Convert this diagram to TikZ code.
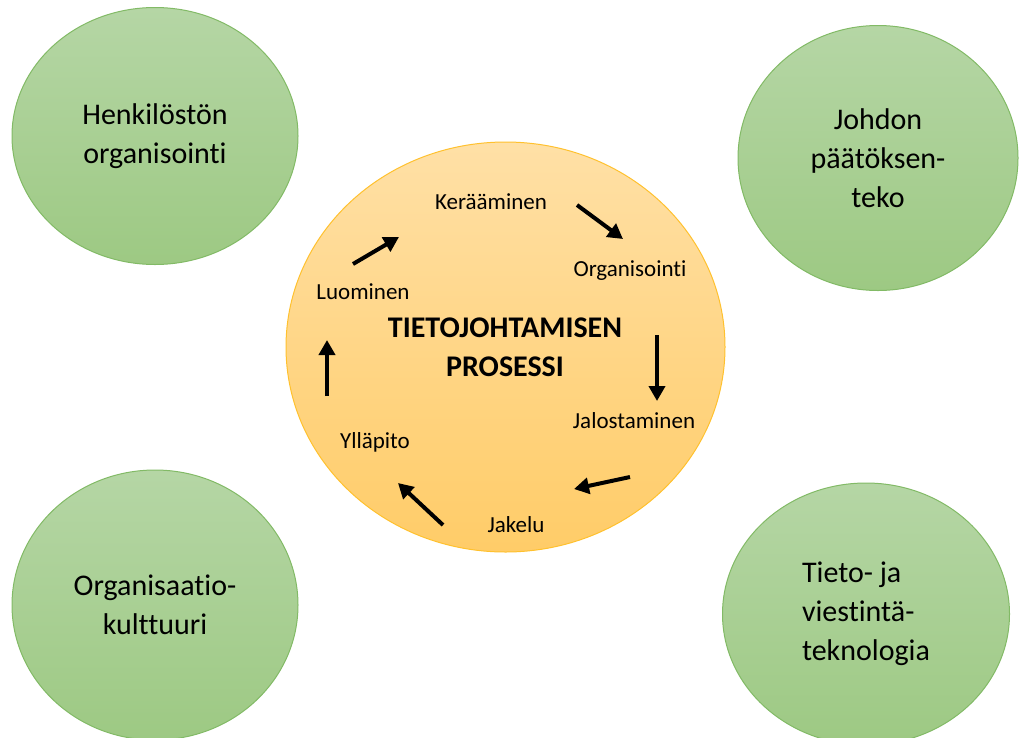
\documentclass[tikz,border=0pt]{standalone}
\usepackage{fontspec}
\setmainfont{Carlito}[Ligatures=NoCommon]
\usetikzlibrary{arrows.meta,shapes.geometric}
\definecolor{grtop}{HTML}{B5D6A5}
\definecolor{grbot}{HTML}{9DC983}
\definecolor{grline}{HTML}{82BA66}
\definecolor{ortop}{HTML}{FFE0A6}
\definecolor{orbot}{HTML}{FFCC68}
\definecolor{orline}{HTML}{FFC12E}

\begin{document}
\begin{tikzpicture}[x=1pt, y=-1pt,
  ring/.style = {ellipse, draw=grline, line width=1pt, top color=grtop, bottom color=grbot,
    inner sep=0pt, font=\fontsize{30}{39}\selectfont},
  phase/.style = {font=\fontsize{23}{26}\selectfont, inner sep=0pt},
  flow/.style = {line width=4pt, -{Triangle[length=15pt,width=16pt]}}]
  \useasboundingbox (0,0) rectangle (1019,737);
  % four fields around the process
  \node[ring, minimum width=286pt, minimum height=257pt, align=center] (hr) at (155,136) {Henkilöstön\\organisointi};
  \node[ring, minimum width=280pt, minimum height=265pt, align=center] (mgmt) at (878,158) {Johdon\\päätöksen-\\teko};
  \node[ring, minimum width=286pt, minimum height=270pt, align=center] (cult) at (155,605) {Organisaatio-\\kulttuuri};
  \node[ring, minimum width=287pt, minimum height=262pt, align=left] (ict) at (866,614) {Tieto- ja\\viestintä-\\teknologia};
  % the process itself
  \node[ellipse, draw=orline, line width=1pt, top color=ortop, bottom color=orbot,
    minimum width=439pt, minimum height=410pt] (proc) at (505.5,347) {};
  \node[font=\bfseries\fontsize{30}{39}\selectfont, align=center] (title) at (505,347) {TIETOJOHTAMISEN\\PROSESSI};
  \node[phase] (ker) at (491,202) {Kerääminen};
  \node[phase] (org) at (630,271) {Organisointi};
  \node[phase] (jal) at (634,421) {Jalostaminen};
  \node[phase] (jak) at (516,525) {Jakelu};
  \node[phase] (yll) at (375,442) {Ylläpito};
  \node[phase] (luo) at (363,292) {Luominen};
  % arrow ends
  \coordinate (a1) at (577,205); \coordinate (b1) at (623,239);
  \coordinate (a2) at (657,335); \coordinate (b2) at (657,401);
  \coordinate (a3) at (630,477); \coordinate (b3) at (574,489);
  \coordinate (a4) at (443,525); \coordinate (b4) at (398,483);
  \coordinate (a5) at (327,396); \coordinate (b5) at (327,340);
  \coordinate (a6) at (353,264); \coordinate (b6) at (399,237);
  \draw[flow] (a1) -- (b1);
  \draw[flow] (a2) -- (b2);
  \draw[flow] (a3) -- (b3);
  \draw[flow] (a4) -- (b4);
  \draw[flow] (a5) -- (b5);
  \draw[flow] (a6) -- (b6);
\end{tikzpicture}
\end{document}
